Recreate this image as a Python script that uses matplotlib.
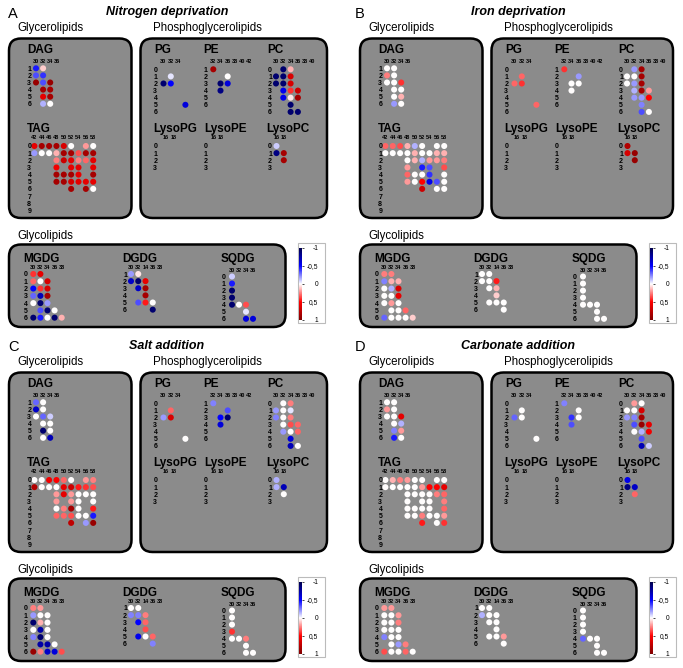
import numpy as np
import matplotlib.pyplot as plt
from matplotlib.patches import FancyBboxPatch, Rectangle
from matplotlib.cm import ScalarMappable
from matplotlib.colors import Normalize

plt.rcParams['font.family'] = ['Liberation Sans', 'DejaVu Sans']

W, H = 683, 668
_ = np.nan

conditions = ["Nitrogen deprivation", "Iron deprivation", "Salt addition", "Carbonate addition"]
letters = ["A", "B", "C", "D"]

# row / column labels of the lipid classes
dag_cols = ["30", "32", "34", "36"]
dag_rows = ["1", "2", "3", "4", "5", "6"]
tag_cols = ["42", "44", "46", "48", "50", "52", "54", "56", "58"]
tag_rows = ["0", "1", "2", "3", "4", "5", "6", "7", "8", "9"]
pg_cols = ["30", "32", "34", ""]
pg_rows = ["0", "1", "2", "3", "4", "5", "6"]
pe_cols = ["32", "34", "36", "38", "40", "42"]
pe_rows = ["1", "2", "3", "4", "5", "6"]
pc_cols = ["30", "32", "34", "36", "38", "40"]
pc_rows = ["0", "1", "2", "3", "4", "5", "6"]
lyso_cols = ["16", "18"]
lyso_rows = ["0", "1", "2", "3"]
mgdg_cols = ["30", "32", "34", "36", "38"]
mgdg_rows = ["0", "1", "2", "3", "4", "5", "6"]
dgdg_cols = ["30", "32", "14", "36", "38"]
dgdg_rows = ["1", "2", "3", "4", "5", "6"]
sqdg_cols = ["30", "32", "34", "36"]
sqdg_rows = ["0", "1", "2", "3", "4", "5", "6"]

# values (-1 .. 1), one row list per double-bond row, nan = not detected
no_species = []

# A - nitrogen deprivation
dag_N = [[-0.45, 0.1], [-0.35, -0.4], [0.9, -0.35, 0.9], [_, 0.85, 0.85], [_, 0.6, 0.85], [_, -0.15, 0.0]]
tag_N = [[0.6, 0.85, 0.85, 0.85, 0.65, 0.0, _, 0.2, 0.0],
         [-0.2, 0.0, 0.0, 0.15, 0.85, 0.85, 0.35, 0.85, 0.85],
         [_, _, _, 0.25, 0.7, 0.6, 0.25, 0.3, 0.6],
         [_, _, _, 0.55, _, 0.6, 0.6, _, 0.6],
         [_, _, _, 0.85, 0.85, 0.85, 0.6, _, 0.85],
         [_, _, _, 0.85, 0.85, 0.65, 0.6, 0.6, 0.6],
         [_, _, _, _, _, 0.85, _, 0.85, 0.0]]
pg_N = [[], [_, -0.05], [-0.9, -0.5], [], [], [_, _, _, -0.6]]
pe_N = [[0.85], [_, _, 0.0], [_, -0.9, -0.6], [_, -0.85]]
pc_N = [[_, -0.9, 0.15], [-0.9, -0.9, 0.65], [-0.9, -0.9, 0.65], [_, -0.55, 0.4, 0.7],
        [_, -0.55, 0.05, 0.85], [_, _, -0.9], [_, _, -0.9, -0.9]]
lysopc_N = [[-0.1], [-0.85, 0.85], [_, 0.85]]
mgdg_N = [[0.4, 0.6], [0.3, 0.0, 0.65], [-0.5, 0.4, 0.65], [-0.3, -0.7, 0.85], [0.0, -0.9, -0.2],
          [_, -0.35, -0.9, 0.0], [-0.9, -0.45, 0.0, -0.9, 0.15]]
dgdg_N = [[-0.2, 0.05], [-0.65, -0.9, 0.6], [_, -0.65, 0.85], [_, _, 0.85], [_, -0.35, 0.45, 0.0], [_, _, _, -0.9]]
sqdg_N = [[-0.1], [-0.45], [-0.9], [-0.9], [-0.9, 0.0, 0.35], [_, _, -0.05], [_, _, -0.6, -0.6]]

# B - iron deprivation
dag_F = [[0.0, 0.0], [0.25, 0.0], [0.0, 0.0, 0.4], [_, 0.0, 0.0], [_, 0.0, 0.15], [_, -0.2, 0.0]]
tag_F = [[0.3, 0.3, 0.35, 0.15, -0.15, 0.0, _, 0.0, 0.0],
         [0.0, 0.0, 0.0, 0.0, 0.15, 0.0, 0.0, 0.15, 0.15],
         [_, _, _, 0.0, 0.15, -0.15, 0.2, 0.2, 0.25],
         [_, _, _, 0.2, _, -0.45, -0.35, _, 0.35],
         [_, _, _, 0.3, 0.0, 0.0, -0.4, _, 0.0],
         [_, _, _, 0.2, 0.0, 0.5, -0.55, -0.35, 0.0],
         [_, _, _, _, _, 0.7, _, 0.0, 0.0]]
pg_F = [[], [_, 0.3], [0.3, 0.4], [], [], [_, _, _, 0.3]]
pe_F = [[0.4], [_, _, -0.2], [_, 0.0, 0.0], [_, 0.0]]
pc_F = [[_, -0.2, 0.85], [0.0, 0.0, 0.85], [0.0, -0.2, 0.85], [_, -0.15, 0.85, 0.2],
        [_, -0.2, -0.2, 0.5], [_, _, -0.25], [_, _, -0.35, 0.0]]
lysopc_F = [[0.8], [0.65, 0.9], [_, 0.9]]
mgdg_F = [[0.25, 0.25], [-0.25, 0.15, 0.15], [0.0, -0.15, 0.65], [0.0, 0.0, 0.6], [0.0, 0.2, 0.0],
          [_, 0.0, 0.0, 0.3], [-0.3, 0.0, 0.0, 0.0, 0.1]]
dgdg_F = [[0.0, 0.0], [0.0, 0.0, 0.45], [_, 0.0, 0.15], [_, _, 0.1], [_, 0.0, 0.0, 0.0], [_, _, _, 0.0]]
sqdg_F = [[0.0], [0.0], [0.0], [0.0], [0.0, 0.0, 0.0], [_, _, 0.0], [_, _, 0.0, 0.0]]

# C - salt addition
dag_S = [[-0.3, 0.0], [-0.65, 0.0], [0.0, -0.3, -0.1], [_, 0.0, 0.0], [_, -0.9, 0.0], [_, 0.0, -0.7]]
tag_S = [[0.0, 0.0, 0.55, 0.5, 0.3, 0.0, _, 0.2, 0.25],
         [0.8, 0.0, 0.0, 0.0, 0.6, 0.7, 0.45, 0.4, 0.35],
         [_, _, _, 0.2, 0.6, 0.2, 0.0, 0.0, 0.0],
         [_, _, _, 0.2, _, 0.2, 0.0, _, 0.0],
         [_, _, _, 0.0, 0.25, 0.85, 0.0, _, 0.45],
         [_, _, _, 0.3, 0.3, 0.35, 0.0, 0.0, -0.45],
         [_, _, _, _, _, 0.75, _, -0.2, 0.9]]
pg_S = [[], [_, 0.3], [-0.2, 0.65], [], [], [_, _, _, 0.0]]
pe_S = [[-0.25], [_, _, -0.35], [_, -0.5, -0.9], [_, -0.6]]
pc_S = [[_, 0.0, 0.25], [-0.2, 0.0, -0.05], [-0.25, 0.0, 0.25], [_, 0.0, 0.35, 0.3],
        [_, -0.2, 0.0, 0.3], [_, _, -0.6], [_, _, -0.7, 0.0]]
lysopc_S = [[-0.15], [-0.15, -0.7], [_, 0.0]]
mgdg_S = [[0.25, 0.2], [-0.2, 0.0, 0.0], [-0.9, 0.15, 0.0], [0.0, -0.75, 0.0], [-0.25, -0.9, 0.0],
          [_, -0.75, -0.75, 0.0], [0.9, 0.25, -0.65, -0.6, 0.35]]
dgdg_S = [[0.0, 0.0], [-0.25, -0.25, 0.25], [_, -0.5, 0.3], [_, _, 0.35], [_, -0.55, 0.0, 0.3], [_, _, _, -0.25]]
sqdg_S = [[0.0], [0.0], [0.0], [0.4], [0.0, 0.0, 0.25], [_, _, 0.0], [_, _, 0.0, 0.0]]

# D - carbonate addition
dag_C = [[0.0, 0.0], [0.2, 0.0], [0.0, 0.0, 0.6], [_, 0.0, -0.15], [_, -0.25, 0.2], [_, -0.45, 0.0]]
tag_C = [[0.0, 0.15, 0.25, 0.2, 0.0, 0.0, _, 0.0, 0.0],
         [0.0, 0.0, 0.0, 0.0, 0.0, 0.2, 0.5, 0.5, 0.6],
         [_, _, _, 0.0, 0.0, 0.0, 0.0, 0.25, 0.3],
         [_, _, _, 0.0, _, 0.0, 0.0, _, 0.25],
         [_, _, _, 0.0, 0.0, 0.0, 0.0, _, 0.3],
         [_, _, _, 0.0, 0.0, 0.25, 0.0, 0.0, 0.2],
         [_, _, _, _, _, 0.45, _, 0.0, 0.4]]
pg_C = [[], [_, 0.0], [-0.3, 0.0], [], [], [_, _, _, 0.0]]
pe_C = [[-0.25], [_, _, 0.0], [_, -0.4, 0.0], [_, -0.35]]
pc_C = [[_, 0.2, 0.0], [0.0, 0.0, 0.65], [-0.2, -0.25, 0.85], [_, -0.35, 0.9, 0.6],
        [_, 0.0, -0.15, 0.55], [_, _, -0.35], [_, _, -0.7, -0.1]]
lysopc_C = [[-0.55], [-0.85, -0.65], [_, 0.3]]
mgdg_C = [[0.2, 0.2], [0.0, 0.0, 0.2], [0.0, 0.0, 0.25], [0.0, 0.0, 0.0], [-0.25, 0.0, 0.0],
          [_, 0.0, -0.2, 0.25], [0.35, 0.0, 0.0, 0.3, 0.0]]
dgdg_C = [[0.0, 0.0], [-0.15, 0.0, 0.0], [_, 0.0, 0.0], [_, _, 0.0], [_, 0.0, 0.0, 0.2], [_, _, _, 0.0]]
sqdg_C = [[0.0], [0.0], [0.0], [0.0], [-0.3, 0.0, 0.0], [_, _, 0.0], [_, _, 0.0, 0.0]]

values = [
    {"DAG": dag_N, "TAG": tag_N, "PG": pg_N, "PE": pe_N, "PC": pc_N, "LysoPG": no_species,
     "LysoPE": no_species, "LysoPC": lysopc_N, "MGDG": mgdg_N, "DGDG": dgdg_N, "SQDG": sqdg_N},
    {"DAG": dag_F, "TAG": tag_F, "PG": pg_F, "PE": pe_F, "PC": pc_F, "LysoPG": no_species,
     "LysoPE": no_species, "LysoPC": lysopc_F, "MGDG": mgdg_F, "DGDG": dgdg_F, "SQDG": sqdg_F},
    {"DAG": dag_S, "TAG": tag_S, "PG": pg_S, "PE": pe_S, "PC": pc_S, "LysoPG": no_species,
     "LysoPE": no_species, "LysoPC": lysopc_S, "MGDG": mgdg_S, "DGDG": dgdg_S, "SQDG": sqdg_S},
    {"DAG": dag_C, "TAG": tag_C, "PG": pg_C, "PE": pe_C, "PC": pc_C, "LysoPG": no_species,
     "LysoPE": no_species, "LysoPC": lysopc_C, "MGDG": mgdg_C, "DGDG": dgdg_C, "SQDG": sqdg_C},
]

# layout inside one quadrant, in pixels:
# name, cols, rows, title x, title baseline, first dot x, first dot y, col-label y, row-label x, dx, dy
classes = [
    ("DAG", dag_cols, dag_rows, 27, 53.3, 36.0, 68.3, 62, 29.3, 7.1, 7.1),
    ("TAG", tag_cols, tag_rows, 27, 131.7, 34.4, 146, 138, 29.3, 7.35, 7.15),
    ("PG", pg_cols, pg_rows, 154, 53.3, 163.5, 69.3, 62, 155.3, 7.3, 7.1),
    ("PE", pe_cols, pe_rows, 203.3, 53.3, 213.3, 69.3, 62, 205.7, 7.2, 7.1),
    ("PC", pc_cols, pc_rows, 267.3, 53.3, 276, 69.3, 62, 270, 7.3, 7.1),
    ("LysoPG", lyso_cols, lyso_rows, 153.3, 131.7, 166, 146, 138, 155.3, 7.2, 7.1),
    ("LysoPE", lyso_cols, lyso_rows, 204, 131.7, 213.5, 146, 138, 205.7, 7.2, 7.1),
    ("LysoPC", lyso_cols, lyso_rows, 266.7, 131.7, 276.5, 146, 138, 270, 7.3, 7.1),
    ("MGDG", mgdg_cols, mgdg_rows, 23.3, 261.7, 33.3, 274, 268, 25.7, 7.1, 7.28),
    ("DGDG", dgdg_cols, dgdg_rows, 122.7, 261.7, 131, 274, 268, 125, 7.25, 7.13),
    ("SQDG", sqdg_cols, sqdg_rows, 221, 261.7, 232, 276.5, 270.5, 223.7, 7.0, 7.05),
]

offsets = [(0, 0), (351, 0), (0, 334), (351, 334)]
letter_pos = [(8, 18.5), (355, 18.5), (8, 351), (355, 351)]
phospho_right = [327, 322, 327, 322]

box_fill = "#8b8b8b"
cmap = "seismic"
norm = Normalize(-1, 1)
col_fs, row_fs = 4.0, 5.0


def to_grid(rows, nrows, ncols):
    g = np.full((nrows, ncols), np.nan)
    for i, r in enumerate(rows):
        g[i, :len(r)] = r
    return g


fig = plt.figure(figsize=(W / 100, H / 100), dpi=100)
bg = fig.add_axes([0, 0, 1, 1])
bg.set_xlim(0, W)
bg.set_ylim(H, 0)
bg.axis("off")


def box(x0, y0, x1, y1):
    bg.add_patch(FancyBboxPatch((x0, y0), x1 - x0, y1 - y0,
                                boxstyle="round,pad=0,rounding_size=12",
                                fc=box_fill, ec="black", lw=1.8))


for q in range(4):
    ox, oy = offsets[q]
    bg.text(letter_pos[q][0], letter_pos[q][1], letters[q], fontsize=10.5, va="baseline")
    bg.text(ox + 167, oy + 15, conditions[q], fontsize=9, fontweight="bold", fontstyle="italic",
            ha="center", va="baseline")
    bg.text(ox + 17, oy + 30.7, "Glycerolipids", fontsize=8.3, va="baseline")
    bg.text(ox + 153, oy + 30.7, "Phosphoglycerolipids", fontsize=8.3, va="baseline")
    bg.text(ox + 17, oy + 239.3, "Glycolipids", fontsize=8.3, va="baseline")

    box(ox + 9, oy + 38.5, ox + 131.5, oy + 218)
    box(ox + 140.5, oy + 38.5, ox + phospho_right[q], oy + 218)
    box(ox + 9, oy + 244.5, ox + 285.5, oy + 327)

    for name, cols, rows, tx, ty, x0, y0, hy, rx, dx, dy in classes:
        bg.text(ox + tx, oy + ty, name, fontsize=8.5, fontweight="bold", va="baseline")
        nr, nc = len(rows), len(cols)
        grid = to_grid(values[q][name], nr, nc)
        left = ox + x0 - dx / 2
        top = oy + y0 - dy / 2
        ax = fig.add_axes([left / W, 1 - (top + nr * dy) / H, nc * dx / W, nr * dy / H])
        ax.set_xlim(-0.5, nc - 0.5)
        ax.set_ylim(nr - 0.5, -0.5)
        ax.patch.set_visible(False)
        for s in ax.spines.values():
            s.set_visible(False)
        ii, jj = np.where(~np.isnan(grid))
        ax.scatter(jj, ii, c=grid[ii, jj], cmap=cmap, norm=norm, s=19, linewidths=0, clip_on=False)
        ax.xaxis.tick_top()
        ax.set_xticks(range(nc))
        ax.set_xticklabels(cols, fontsize=col_fs, fontweight="bold")
        ax.set_yticks(range(nr))
        ax.set_yticklabels(rows, fontsize=row_fs, fontweight="bold")
        cfs = col_fs * 100 / 72
        rfs = row_fs * 100 / 72
        padx = (top - (oy + hy) - 0.36 * cfs) * 0.72
        pady = (left - (ox + rx + 0.28 * rfs)) * 0.72
        ax.tick_params(axis="x", length=0, pad=padx)
        ax.tick_params(axis="y", length=0, pad=pady)

    # colour scale
    bg.add_patch(Rectangle((ox + 297.5, oy + 243), 27, 80, fc="white", ec="#bbbbbb", lw=0.8))
    cax = fig.add_axes([(ox + 299) / W, 1 - (oy + 320) / H, 3 / W, 72 / H])
    cb = fig.colorbar(ScalarMappable(norm=norm, cmap=cmap), cax=cax)
    cb.outline.set_visible(False)
    cax.invert_yaxis()
    cb.set_ticks([-1, -0.5, 0, 0.5, 1])
    cb.set_ticklabels(["-1", "-0,5", "0", "0,5", "1"])
    cax.tick_params(length=1.5, width=0.5, labelsize=4.8, pad=10.2)
    for lab in cax.get_yticklabels():
        lab.set_ha("right")

fig.savefig("out.png", dpi=100)
